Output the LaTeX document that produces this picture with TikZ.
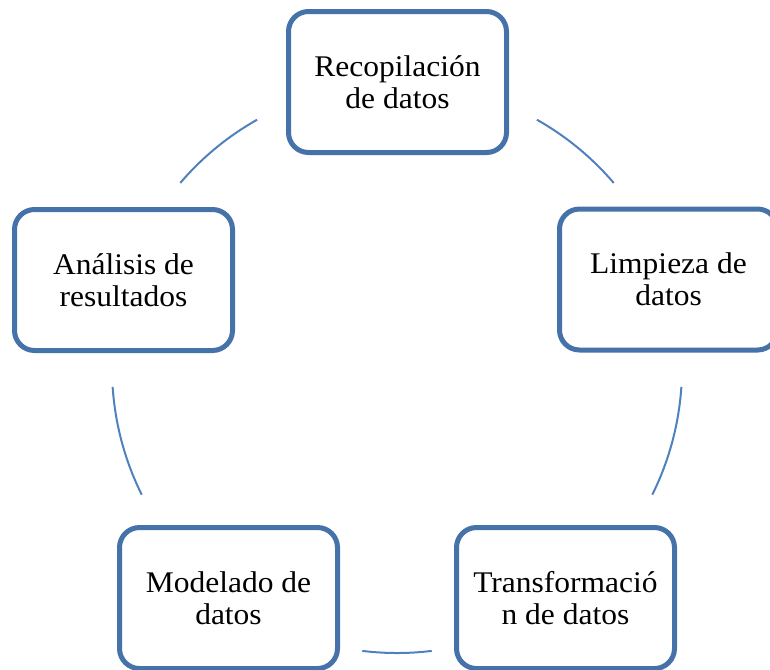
\documentclass[tikz,border=0pt]{standalone}
\usepackage{fontspec}
\setmainfont{Liberation Serif}[FakeStretch=1.05]

\definecolor{boxblue}{RGB}{70,114,170}
\definecolor{arcblue}{RGB}{79,129,189}

\tikzset{every picture/.style={line width=0.75pt}}
\tikzset{
  stage/.style={draw=boxblue, line width=3.75pt, fill=white, rounded corners=15pt,
    minimum width=163.5pt, minimum height=105.75pt, inner sep=0pt, align=center,
    font=\fontsize{22.5}{23.7}\selectfont},
  link/.style={draw=arcblue, line width=1.5pt}
}

\begin{document}
\begin{tikzpicture}[x=0.75pt,y=0.75pt,yscale=-1,xscale=1]
\useasboundingbox (0,0) rectangle (770,669);

%Cycle centre
\coordinate (c) at (397,368);

%Arcs of the cycle
\draw[link] (c) ++(299.4:285) arc[start angle=299.4, end angle=319.5, radius=285];
\draw[link] (c) ++(3.8:285) arc[start angle=3.8, end angle=26.4, radius=285];
\draw[link] (c) ++(83:285) arc[start angle=83, end angle=97, radius=285];
\draw[link] (c) ++(153.6:285) arc[start angle=153.6, end angle=176.2, radius=285];
\draw[link] (c) ++(220.5:285) arc[start angle=220.5, end angle=240.6, radius=285];

% Stage Nodes
\node[stage] (recop) at (397.5,82) {Recopilación\\de datos};
\node[stage] (limp) at (668.5,279.5) {Limpieza de\\datos};
\node[stage] (transf) at (565.5,598) {Transformació\\n de datos};
\node[stage] (model) at (228.5,598) {Modelado de\\datos};
\node[stage] (anal) at (123.5,280) {Análisis de\\resultados};

\end{tikzpicture}
\end{document}
